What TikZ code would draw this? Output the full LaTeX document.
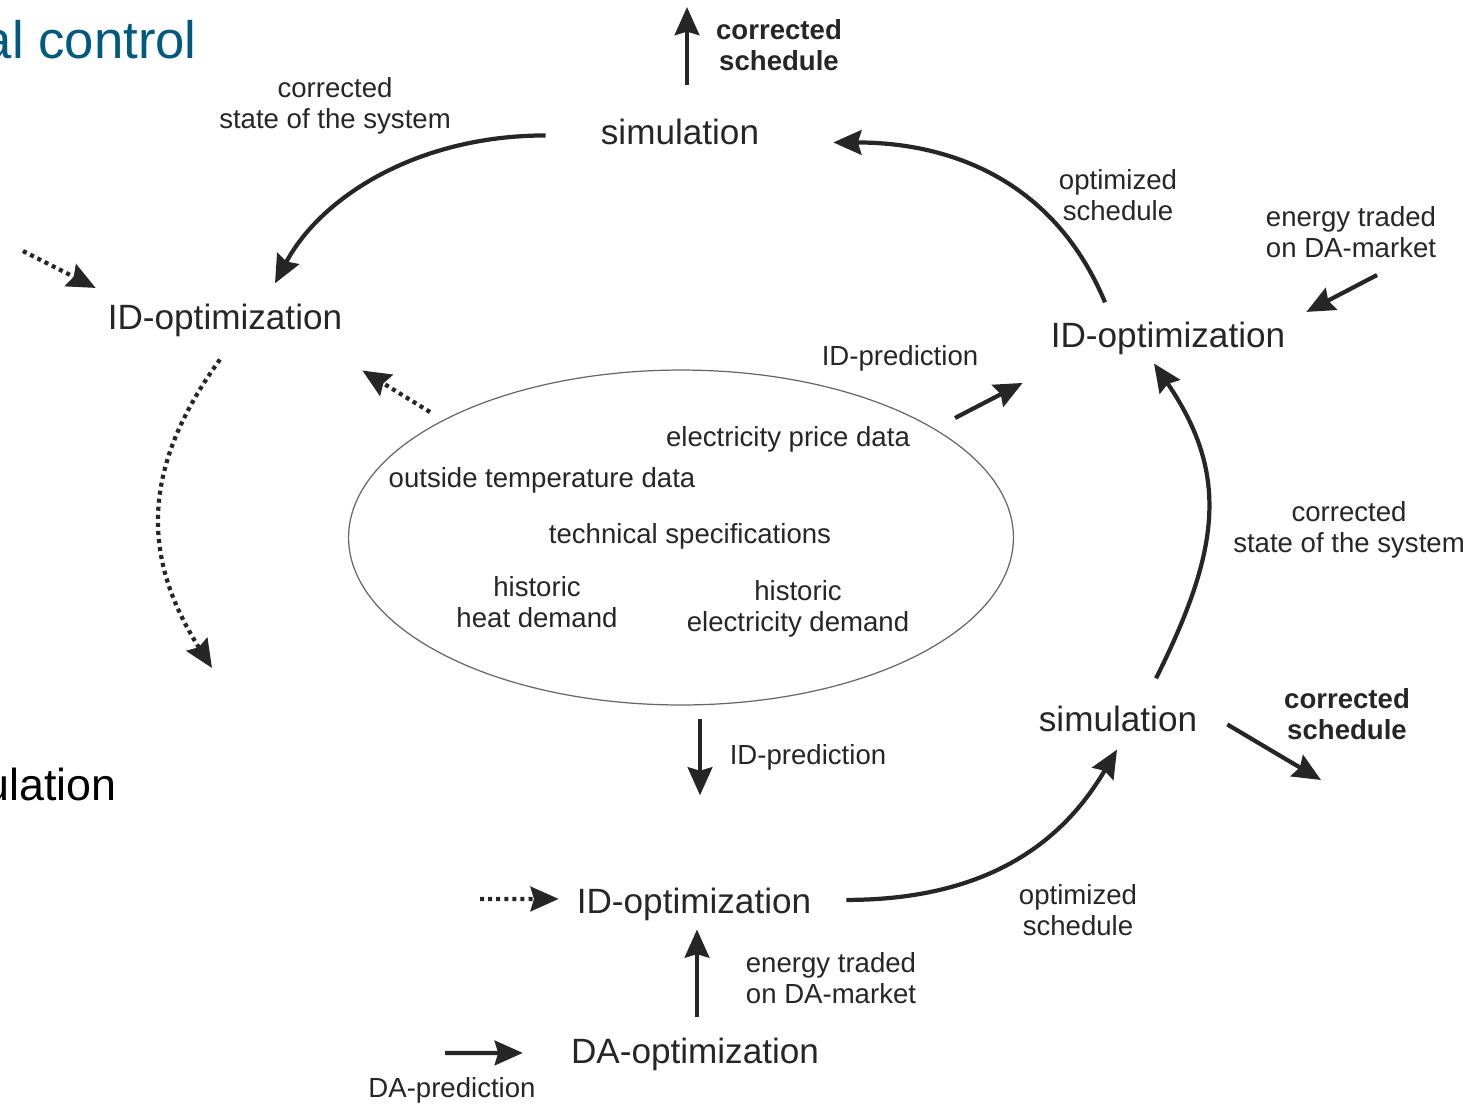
\documentclass[tikz,border=0pt]{standalone}
\usepackage{fontspec}
\setmainfont{Liberation Sans}
\usetikzlibrary{arrows.meta,shapes.geometric}
\definecolor{ink}{RGB}{38,38,38}
\definecolor{titleblue}{RGB}{0,90,128}
\begin{document}
\begin{tikzpicture}[x=0.02cm,y=-0.02cm,
  every node/.style={text=ink},
  big/.style={font=\fontsize{20}{24}\selectfont,anchor=base},
  small/.style={font=\fontsize{15.7}{17.6}\selectfont,align=center},
  bold/.style={small,font=\fontsize{15.7}{17.6}\selectfont\bfseries},
  arr/.style={draw=ink,line width=2.4pt,-{Stealth[length=16pt,width=14pt,inset=2pt]}},
  dotarr/.style={arr,dash pattern=on 2.3pt off 2.3pt}]
\useasboundingbox (0,0) rectangle (1469,1103);
\node[font=\fontsize{30}{36}\selectfont,text=titleblue,anchor=base east,inner sep=0] (title) at (197,58) {al control};
\node[font=\fontsize{25.5}{30}\selectfont,text=black,anchor=base east,inner sep=0] (prevsim) at (117,800) {ulation};
\node[big] (sim1) at (680,144) {simulation};
\node[big] (idl) at (225,329) {ID-optimization};
\node[big] (idr) at (1168,347) {ID-optimization};
\node[big] (sim2) at (1118,731) {simulation};
\node[big] (idb) at (694,913) {ID-optimization};
\node[big] (da) at (695,1063) {DA-optimization};
\node[ellipse,draw=black!60,line width=0.7pt,minimum width=13.3cm,minimum height=6.7cm,inner sep=0] (data) at (681,537.5) {};
\node[small,anchor=base] (price) at (788,446) {electricity price data};
\node[small,anchor=base] (temp) at (542,487) {outside temperature data};
\node[small,anchor=base] (spec) at (690,543) {technical specifications};
\node[small] (heat) at (537,602.5) {historic\\heat demand};
\node[small] (elec) at (798,608.4) {historic\\electricity demand};
\node[bold] (cslbl1) at (779,45.5) {corrected\\schedule};
\node[small] (stlbl1) at (335,105.4) {corrected\\state of the system};
\node[small] (oslbl1) at (1118,195.5) {optimized\\schedule};
\node[small] (etlbl1) at (1351,232.5) {energy traded\\on DA-market};
\node[small,anchor=base] (idplbl1) at (900,365) {ID-prediction};
\node[small] (stlbl2) at (1349,529.4) {corrected\\state of the system};
\node[bold] (cslbl2) at (1347,714.5) {corrected\\schedule};
\node[small,anchor=base] (idplbl2) at (808,764) {ID-prediction};
\node[small] (oslbl2) at (1078,910.5) {optimized\\schedule};
\node[small] (etlbl2) at (831,978.5) {energy traded\\on DA-market};
\node[small,anchor=base] (daplbl) at (452,1097) {DA-prediction};
\coordinate (cs1) at (687,7);
\coordinate (et1) at (1377,275);
\coordinate (cs2) at (1321,780);
\coordinate (dp1) at (23,251);
\coordinate (dp2) at (212,668);
\coordinate (dp3) at (480,899);
\coordinate (dap) at (445,1053);
\draw[arr] (sim1.north) ++(7,-27) -- (cs1);
\draw[arr] (sim1.west) ++(-49,4) .. controls +(-130,0) and +(45,-85) .. ([shift={(50,-14)}]idl.north);
\draw[arr] (idr.north) ++(-63,-13) .. controls +(-50,-120) and +(120,0) .. ([shift={(68,11)}]sim1.east);
\draw[arr] (et1) -- ([shift={(15,-26)}]idr.east);
\draw[arr] (data.center) ++(274,-119.5) -- ([shift={(-22,45)}]idr.west);
\draw[dotarr] (data.center) ++(-251,-125.5) -- ([shift={(14,28)}]idl.south east);
\draw[dotarr] (dp1) -- ([shift={(-6,-32)}]idl.west);
\draw[dotarr] (idl.south) ++(-5,17) .. controls +(-80,110) and +(-70,-110) .. (dp2);
\draw[arr] (sim2.north) ++(38,-21) .. controls +(65,-130) and +(75,110) .. ([shift={(-14,3)}]idr.south);
\draw[arr] (sim2.east) ++(24,6) -- (cs2);
\draw[arr] (data.south) ++(19,13) -- ([shift={(6,-86)}]idb.north);
\draw[arr] (idb.east) ++(29,-4) .. controls +(150,0) and +(-50,85) .. ([shift={(-1,12)}]sim2.south);
\draw[dotarr] (dp3) -- ([shift={(-12,-5)}]idb.west);
\draw[arr] (da.north) ++(2,-14) -- ([shift={(3,3)}]idb.south);
\draw[arr] (dap) -- ([shift={(-42,-1)}]da.west);
\end{tikzpicture}
\end{document}
